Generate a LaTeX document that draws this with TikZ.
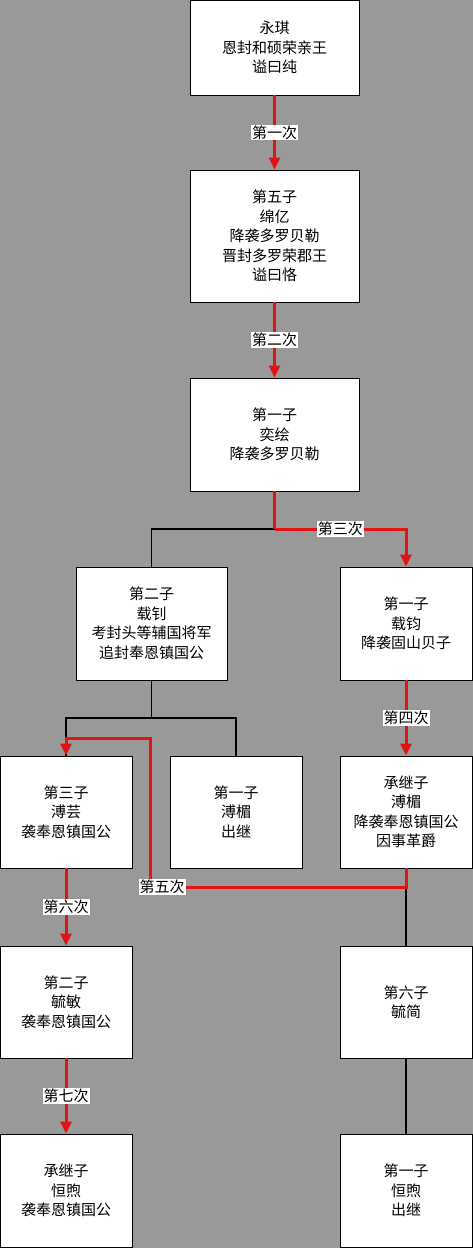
\documentclass[tikz,border=0pt]{standalone}
\usepackage{fontspec}
\newfontfamily\cjk{Noto Sans CJK SC}
\usetikzlibrary{arrows.meta}
\definecolor{bg}{RGB}{153,153,153}
\definecolor{redline}{RGB}{224,20,20}
\tikzset{
  box/.style={draw=black, line width=0.9pt, fill=white, align=center, inner sep=0pt,
    font=\cjk\fontsize{15}{19.5}\selectfont},
  wbox/.style={box, minimum width=169pt},
  sbox/.style={box, minimum width=132pt},
  conn/.style={draw=black, line width=1.2pt},
  redc/.style={draw=redline, line width=3pt},
  redarrow/.style={redc, -{Triangle[length=12pt,width=11pt]}},
  lbl/.style={fill=white, inner sep=1pt, font=\cjk\fontsize{15}{16}\selectfont, text=black}
}
\begin{document}
\begin{tikzpicture}[x=1pt,y=-1pt]
\fill[bg] (0,0) rectangle (473,1248);
\useasboundingbox (0,0) rectangle (473,1248);
% boxes
\node[wbox, minimum height=95pt] (b1) at (274.5,47.5) {永琪\\恩封和硕荣亲王\\谥曰纯};
\node[wbox, minimum height=132pt] (b2) at (274.5,236) {第五子\\绵亿\\降袭多罗贝勒\\晋封多罗荣郡王\\谥曰恪};
\node[wbox, minimum height=113pt] (b3) at (274.5,434.5) {第一子\\奕绘\\降袭多罗贝勒};
\node[box, minimum width=151pt, minimum height=113pt] (b4) at (151.5,623.5) {第二子\\载钊\\考封头等辅国将军\\追封奉恩镇国公};
\node[sbox, minimum height=113pt] (b5) at (406,623.5) {第一子\\载钧\\降袭固山贝子};
\node[sbox, minimum height=112pt] (b6) at (66,812) {第三子\\溥芸\\袭奉恩镇国公};
\node[sbox, minimum height=112pt] (b7) at (236,812) {第一子\\溥楣\\出继};
\node[sbox, minimum height=112pt] (b8) at (406,812) {承继子\\溥楣\\降袭奉恩镇国公\\因事革爵};
\node[sbox, minimum height=112pt] (b10) at (66,1002) {第二子\\毓敏\\袭奉恩镇国公};
\node[sbox, minimum height=112pt] (b9) at (406,1002) {第六子\\毓简};
\node[sbox, minimum height=113pt] (b11) at (66,1190.5) {承继子\\恒煦\\袭奉恩镇国公};
\node[sbox, minimum height=113pt] (b12) at (406,1190.5) {第一子\\恒煦\\出继};
% junctions
\coordinate (j3) at (274.5,529);
\coordinate (j4) at (151.5,718);
\coordinate (j8) at (406,887);
\coordinate (t5) at (150,887);
\coordinate (u5) at (150,738);
% black connectors
\draw[conn] (j3) -| (b4.north);
\draw[conn] (b4.south) -- (j4);
\draw[conn] (j4) -| (b6.north);
\draw[conn] (j4) -| (b7.north);
\draw[conn] (j8) -- (b9.north);
\draw[conn] (b9.south) -- (b12.north);
% red connectors
\draw[redarrow] (b1.south) -- node[lbl]{第一次} (b2.north);
\draw[redarrow] (b2.south) -- node[lbl]{第二次} (b3.north);
\draw[redc] (b3.south) -- (j3);
\draw[redarrow] (j3) -| node[lbl,pos=0.25]{第三次} (b5.north);
\draw[redarrow] (b5.south) -- node[lbl]{第四次} (b8.north);
\draw[redarrow] (b8.south) -- (j8) -- (t5) -- (u5) -| (b6.north);
\node[lbl] (l5) at (162,887) {第五次};
\draw[redarrow] (b6.south) -- node[lbl]{第六次} (b10.north);
\draw[redarrow] (b10.south) -- node[lbl]{第七次} (b11.north);
\end{tikzpicture}
\end{document}
